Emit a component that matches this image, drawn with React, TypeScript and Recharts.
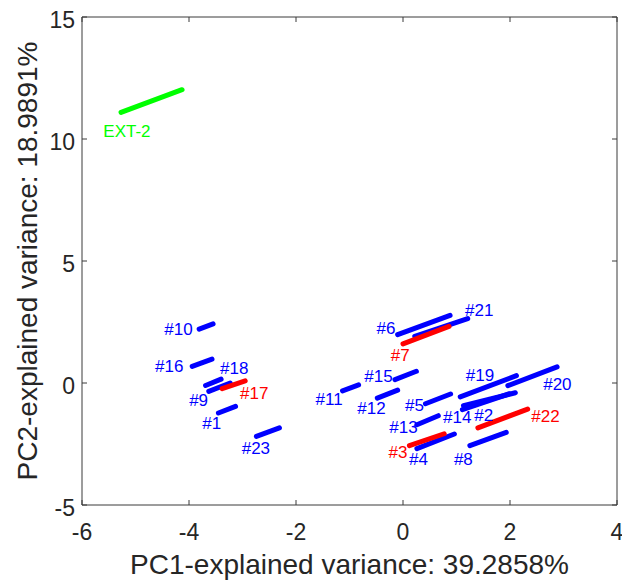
import React from 'react';
import { ComposedChart, Line, Scatter, XAxis, YAxis } from 'recharts';

const segNames = ['#1','#2','#3','#4','#5','#6','#7','#8','#9','#10','#11','#12','#13','#14','#15','#16','#17','#18','#19','#20','#21','#22','#23','EXT-2'];
const segX1 = [-3.45, 1.13, 0.12, 0.26, 0.42, -0.10, 0.00, 1.25, -3.63, -3.81, -1.13, -0.48, 0.26, 1.11, -0.15, -3.94, -3.38, -3.69, 1.07, 1.96, 0.22, 1.40, -2.74, -5.27];
const segY1 = [-1.23, -0.93, -2.57, -2.69, -0.85, 1.98, 1.60, -2.57, -0.34, 2.21, -0.32, -0.62, -1.71, -1.09, 0.14, 0.68, -0.23, -0.10, -0.57, -0.11, 1.91, -1.84, -2.19, 11.09];
const segX2 = [-3.13, 2.10, 0.77, 0.96, 0.89, 0.88, 0.86, 1.93, -3.23, -3.55, -0.83, -0.10, 0.66, 1.99, 0.25, -3.57, -2.95, -3.40, 2.12, 2.88, 1.21, 2.33, -2.31, -4.13];
const segY2 = [-0.96, -0.40, -2.08, -2.09, -0.45, 2.77, 2.32, -2.02, 0.00, 2.42, -0.08, -0.29, -1.34, -0.44, 0.48, 0.98, 0.09, 0.16, 0.30, 0.66, 2.64, -1.07, -1.84, 12.02];
const labelX = [-3.575, 1.51, -0.095, 0.289, 0.215, -0.317, -0.052, 1.128, -3.82, -4.198, -1.38, -0.588, 0.009, 1.015, -0.457, -4.37, -2.78, -3.155, 1.44, 2.886, 1.425, 2.662, -2.75, -5.16];
const labelY = [-1.64, -1.34, -2.83, -3.14, -0.92, 2.25, 1.13, -3.14, -0.73, 2.18, -0.68, -1.03, -1.82, -1.43, 0.25, 0.66, -0.43, 0.59, 0.31, -0.07, 2.98, -1.39, -2.70, 10.31];
const redNames = ['#3', '#7', '#17', '#22'];
const greenNames = ['EXT-2'];
const xTicks = [-6, -4, -2, 0, 2, 4];
const yTicks = [-5, 0, 5, 10, 15];

const BLUE = '#0000ff';
const RED = '#ff0000';
const GREEN = '#00ff00';
const AXIS = '#3a3a3a';
const TEXT = '#262626';
const FONT = '"Liberation Sans", Arial, Helvetica, sans-serif';
const TICK_LEN = 5;

const colorOf = (n: string) => (redNames.includes(n) ? RED : greenNames.includes(n) ? GREEN : BLUE);

const segments = segNames.map((name, i) => ({
  name,
  color: colorOf(name),
  data: [
    { x: segX1[i], y: segY1[i] },
    { x: segX2[i], y: segY2[i] },
  ],
}));
const order = (c: string) => (c === BLUE ? 0 : c === RED ? 1 : 2);
const sortedSegments = [...segments].sort((a, b) => order(a.color) - order(b.color));

const labels = segNames.map((name, i) => ({ x: labelX[i], y: labelY[i], name, color: colorOf(name) }));

const LabelShape = (props: any) => {
  const { cx, cy, payload } = props;
  return (
    <text x={cx} y={cy} textAnchor="middle" dominantBaseline="central" fill={payload.color} fontSize={17} fontFamily={FONT}>
      {payload.name}
    </text>
  );
};

// bottom axis: tickSize 0, tickMargin 0 -> y is the axis line
const BottomTick = (props: any) => {
  const { x, y, payload } = props;
  return (
    <g>
      <line x1={x} y1={y} x2={x} y2={y - TICK_LEN} stroke={AXIS} strokeWidth={1} />
      <text x={x} y={y + 35} textAnchor="middle" fill={TEXT} fontSize={23} fontFamily={FONT}>
        {payload.value}
      </text>
    </g>
  );
};
const TopTick = (props: any) => {
  const { x, y } = props;
  return <line x1={x} y1={y} x2={x} y2={y + TICK_LEN} stroke={AXIS} strokeWidth={1} />;
};
const LeftTick = (props: any) => {
  const { x, y, payload } = props;
  return (
    <g>
      <line x1={x} y1={y} x2={x + TICK_LEN} y2={y} stroke={AXIS} strokeWidth={1} />
      <text x={x - 7} y={y + 3} textAnchor="end" dominantBaseline="central" fill={TEXT} fontSize={23} fontFamily={FONT}>
        {payload.value}
      </text>
    </g>
  );
};
const RightTick = (props: any) => {
  const { x, y } = props;
  return <line x1={x} y1={y} x2={x - TICK_LEN} y2={y} stroke={AXIS} strokeWidth={1} />;
};

const YTitle = (props: any) => {
  const vb = props.viewBox;
  const cx = 27;
  const cy = vb.y + vb.height / 2;
  return (
    <text x={cx} y={cy} transform={`rotate(-90, ${cx}, ${cy})`} textAnchor="middle" dominantBaseline="central" fill={TEXT} fontSize={28} fontFamily={FONT}>
      PC2-explained variance: 18.9891%
    </text>
  );
};

const XTitle = (props: any) => {
  const vb = props.viewBox;
  const cx = vb.x + vb.width / 2;
  return (
    <text x={cx} y={574} textAnchor="middle" fill={TEXT} fontSize={28} fontFamily={FONT}>
      PC1-explained variance: 39.2858%
    </text>
  );
};

export default function App() {
  return (
    <div style={{ position: 'absolute', left: 0, top: 0, width: 622, height: 581, background: '#fff' }}>
      <ComposedChart width={622} height={581} margin={{ top: 16, right: 4, bottom: 0, left: 0 }}>
        <XAxis
          xAxisId={0}
          type="number"
          dataKey="x"
          domain={[-6, 4]}
          ticks={xTicks}
          allowDataOverflow
          height={76}
          stroke={AXIS}
          tickLine={false}
          tickSize={0}
          tickMargin={0}
          tick={<BottomTick />}
          label={<XTitle />}
        />
        <XAxis
          xAxisId="top"
          orientation="top"
          type="number"
          dataKey="x"
          domain={[-6, 4]}
          ticks={xTicks}
          allowDataOverflow
          height={1}
          stroke={AXIS}
          tickLine={false}
          tickSize={0}
          tickMargin={0}
          tick={<TopTick />}
        />
        <YAxis
          yAxisId={0}
          type="number"
          dataKey="y"
          domain={[-5, 15]}
          ticks={yTicks}
          allowDataOverflow
          width={82}
          stroke={AXIS}
          tickLine={false}
          tickSize={0}
          tickMargin={0}
          tick={<LeftTick />}
          label={<YTitle />}
        />
        <YAxis
          yAxisId="right"
          orientation="right"
          type="number"
          dataKey="y"
          domain={[-5, 15]}
          ticks={yTicks}
          allowDataOverflow
          width={1}
          stroke={AXIS}
          tickLine={false}
          tickSize={0}
          tickMargin={0}
          tick={<RightTick />}
        />
        {sortedSegments.map((s) => (
          <Line
            key={s.name}
            xAxisId={0}
            yAxisId={0}
            data={s.data}
            dataKey="y"
            type="linear"
            stroke={s.color}
            strokeWidth={5}
            strokeLinecap="round"
            dot={false}
            activeDot={false}
            isAnimationActive={false}
          />
        ))}
        <Scatter
          xAxisId={0}
          yAxisId={0}
          data={labels}
          dataKey="y"
          shape={<LabelShape />}
          isAnimationActive={false}
        />
      </ComposedChart>
    </div>
  );
}
